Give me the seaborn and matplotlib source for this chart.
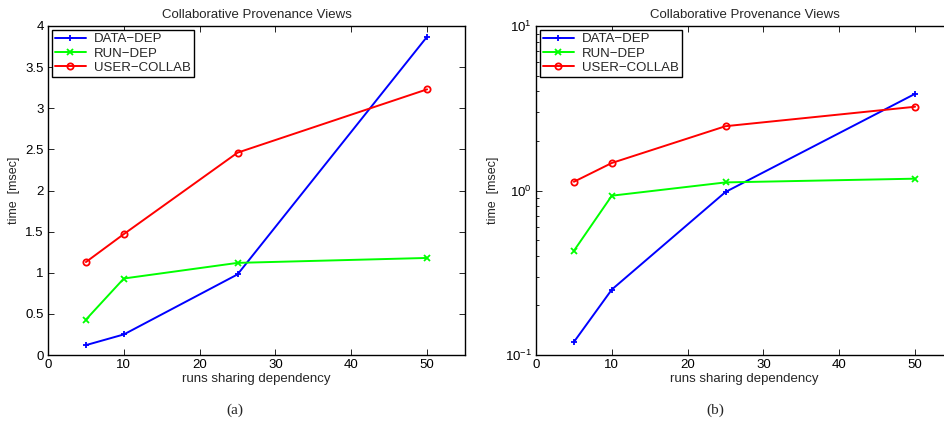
import numpy as np
import pandas as pd
import matplotlib
matplotlib.use("Agg")
import matplotlib.pyplot as plt
import seaborn as sns

# data
runs = [5, 10, 25, 50]
data_dep = [0.12, 0.25, 0.98, 3.87]
run_dep = [0.43, 0.93, 1.12, 1.18]
user_collab = [1.13, 1.47, 2.46, 3.23]
series_names = ["DATA\u2212DEP", "RUN\u2212DEP", "USER\u2212COLLAB"]

sns.set_style("ticks")
plt.rcParams["font.family"] = ["Liberation Sans", "DejaVu Sans"]
plt.rcParams["mathtext.fontset"] = "custom"
plt.rcParams["mathtext.rm"] = "Liberation Sans"
plt.rcParams["font.size"] = 9
plt.rcParams["xtick.direction"] = "in"
plt.rcParams["ytick.direction"] = "in"
plt.rcParams["xtick.top"] = True
plt.rcParams["ytick.right"] = True

series = [
    (series_names[0], data_dep, "#0000ff", "+"),
    (series_names[1], run_dep, "#00ff00", "x"),
    (series_names[2], user_collab, "#ff0000", "o"),
]

fig = plt.figure(figsize=(9.44, 4.29), dpi=100)
ax_a = fig.add_axes([48 / 944, 1 - 355 / 429, 417 / 944, 329 / 429])
ax_b = fig.add_axes([536 / 944, 1 - 355 / 429, 417 / 944, 329 / 429])

for ax in (ax_a, ax_b):
    for name, vals, color, mk in series:
        df = pd.DataFrame({"runs": runs, "time": vals})
        sns.lineplot(data=df, x="runs", y="time", ax=ax, color=color, marker=mk,
                     markersize=4.5, markeredgewidth=1.3, markerfacecolor="none",
                     markeredgecolor=color, linewidth=1.4, label=name)
    ax.set_xlim(0, 55)
    ax.set_xticks([0, 10, 20, 30, 40, 50])
    ax.set_title("Collaborative Provenance Views", fontsize=9.5, pad=6)
    ax.set_xlabel("runs sharing dependency", fontsize=9.5, labelpad=1)
    ax.set_ylabel("time  [msec]", fontsize=9, labelpad=4)
    for sp in ax.spines.values():
        sp.set_linewidth(1.0)
        sp.set_color("black")
    ax.tick_params(which="both", length=4, width=0.6, colors="black", pad=3, labelsize=9.5)
    leg = ax.legend(loc="upper left", fancybox=False, edgecolor="black", framealpha=1,
                    borderaxespad=0.3, handlelength=2.3, labelspacing=0.15,
                    borderpad=0.25, handletextpad=0.6, fontsize=9.5)
    leg.get_frame().set_linewidth(1.0)

ax_a.set_ylim(0, 4)
ax_a.set_yticks([0, 0.5, 1, 1.5, 2, 2.5, 3, 3.5, 4])
ax_a.set_yticklabels(["0", "0.5", "1", "1.5", "2", "2.5", "3", "3.5", "4"])

ax_b.set_yscale("log")
ax_b.set_ylim(0.1, 10)
ax_b.tick_params(which="minor", length=2.5, width=0.6)

fig.text(235 / 944, 1 - 410 / 429, "(a)", ha="center", va="center",
         fontsize=11, family=["Liberation Serif", "DejaVu Serif"])
fig.text(715 / 944, 1 - 410 / 429, "(b)", ha="center", va="center",
         fontsize=11, family=["Liberation Serif", "DejaVu Serif"])

fig.savefig("out.png", dpi=100)
